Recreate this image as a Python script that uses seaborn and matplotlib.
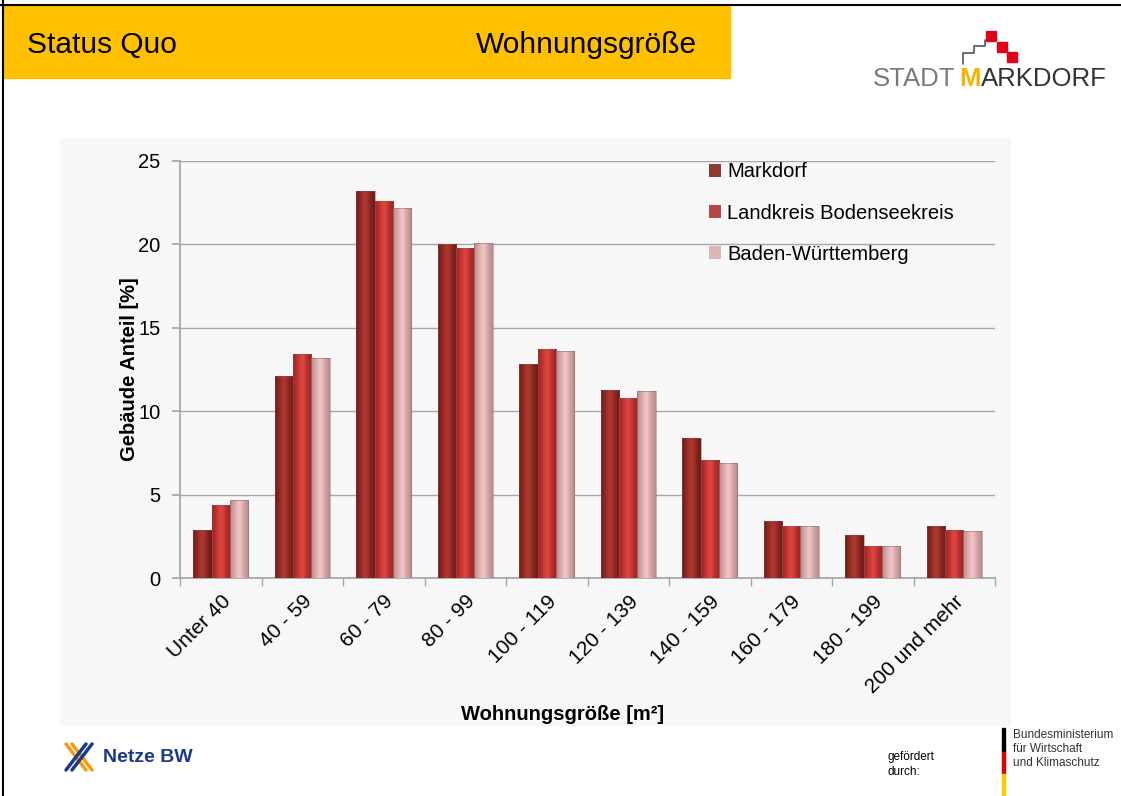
import pandas as pd
import matplotlib.pyplot as plt
import seaborn as sns
import numpy as np
from matplotlib.colors import LinearSegmentedColormap
from matplotlib.patches import Rectangle
from matplotlib.lines import Line2D

# Daten
kategorien = ['Unter 40', '40 - 59', '60 - 79', '80 - 99', '100 - 119', '120 - 139',
              '140 - 159', '160 - 179', '180 - 199', '200 und mehr']
markdorf = [2.9, 12.1, 23.2, 20.0, 12.8, 11.3, 8.4, 3.4, 2.6, 3.1]
landkreis = [4.4, 13.4, 22.6, 19.8, 13.7, 10.8, 7.1, 3.1, 1.9, 2.9]
bawue = [4.7, 13.2, 22.2, 20.1, 13.6, 11.2, 6.9, 3.1, 1.9, 2.8]
serien = ['Markdorf', 'Landkreis Bodenseekreis', 'Baden-Württemberg']
y_ticks = [0, 5, 10, 15, 20, 25]

df = pd.DataFrame({
    'Kategorie': kategorien * 3,
    'Anteil': markdorf + landkreis + bawue,
    'Region': [serien[0]] * 10 + [serien[1]] * 10 + [serien[2]] * 10,
})

farben = ['#9e2b26', '#c93431', '#e3b0b0']
verlauf = {
    serien[0]: ['#6e1a16', '#962a24', '#b03a32', '#8c2621', '#6e1a16'],
    serien[1]: ['#9a2522', '#c7332f', '#de4a45', '#b92e2a', '#9a2522'],
    serien[2]: ['#b98a8b', '#dcaaaa', '#f1caca', '#d4a2a2', '#b98a8b'],
}

sns.set_theme(style='white')
plt.rcParams['font.family'] = ['Liberation Sans', 'DejaVu Sans']
for key in ['text.color', 'axes.labelcolor', 'xtick.labelcolor', 'ytick.labelcolor']:
    plt.rcParams[key] = 'black'

fig = plt.figure(figsize=(11.21, 7.96), dpi=100)
fig.patch.set_facecolor('white')

# Rahmen und Kopfzeile
fig.add_artist(Line2D([3 / 1121, 3 / 1121], [0, 1], color='black', lw=1.5))
fig.add_artist(Line2D([0, 1], [1 - 5 / 796, 1 - 5 / 796], color='black', lw=1.5))
fig.add_artist(Rectangle((4 / 1121, 1 - 78 / 796), 726 / 1121, 72 / 796,
                         color='#ffc000', zorder=0))
fig.text(27 / 1121, 1 - 45 / 796, 'Status Quo', fontsize=21.5, va='center')
fig.text(476 / 1121, 1 - 45 / 796, 'Wohnungsgröße', fontsize=21.5, va='center')

# Logo Stadt Markdorf
fig.text(873 / 1121, 1 - 79 / 796, 'STADT', fontsize=18.5, color='#7a7a7a', va='center')
fig.text(959 / 1121, 1 - 79 / 796, 'M', fontsize=18.5, color='#f5b400',
         va='center', fontweight='bold')
fig.text(981 / 1121, 1 - 79 / 796, 'ARKDORF', fontsize=18.5, color='#333333', va='center')
stufen_x = np.array([963, 963, 974, 974, 985, 985]) / 1121
stufen_y = 1 - np.array([64, 53, 53, 46, 46, 40]) / 796
fig.add_artist(Line2D(stufen_x, stufen_y, color='#555555', lw=1.2))
for (qx, qy) in [(986, 31), (997, 42), (1007, 52)]:
    fig.add_artist(Rectangle((qx / 1121, 1 - (qy + 10) / 796), 10 / 1121, 10 / 796,
                             color='#e2001a'))

# grauer Diagrammbereich
fig.add_artist(Rectangle((60 / 1121, 1 - 725 / 796), 950 / 1121, 587 / 796,
                         color='#f7f7f7', zorder=0))

ax = fig.add_axes([180 / 1121, 1 - 578 / 796, 815 / 1121, 417 / 796])
ax.set_facecolor('#f7f7f7')
sns.barplot(data=df, x='Kategorie', y='Anteil', hue='Region', palette=farben,
            width=0.68, gap=0, ax=ax, zorder=3, edgecolor='none')

# Verlauf auf die Balken legen (3D-Optik)
for container, name in zip(ax.containers, serien):
    cmap = LinearSegmentedColormap.from_list(name, verlauf[name])
    grad = np.linspace(0, 1, 64).reshape(1, -1)
    for bar in container:
        x0, w, h = bar.get_x(), bar.get_width(), bar.get_height()
        img = ax.imshow(grad, cmap=cmap, aspect='auto', extent=[x0, x0 + w, 0, h],
                        zorder=4, interpolation='bicubic')
        img.set_clip_path(bar)
        ax.add_patch(Rectangle((x0, 0), w, h, fill=False, edgecolor='#7a5a5a',
                               lw=0.6, alpha=0.5, zorder=5))

ax.set_xlim(-0.5, 9.5)
ax.set_ylim(0, 25)
ax.set_yticks(y_ticks)
ax.yaxis.grid(True, color='#a6a6a6', lw=1)
ax.set_axisbelow(True)
for s in ['top', 'right']:
    ax.spines[s].set_visible(False)
ax.spines['left'].set_color('#a6a6a6')
ax.spines['bottom'].set_color('#a6a6a6')
ax.tick_params(axis='y', labelsize=14.5, length=6, color='#a6a6a6', left=True, pad=8)
ax.set_xticks(range(len(kategorien)))
ax.set_xticklabels(kategorien, rotation=45, ha='right', rotation_mode='anchor', fontsize=15)
ax.tick_params(axis='x', length=0, pad=10)
ax.set_xticks(np.arange(-0.5, 10, 1), minor=True)
ax.tick_params(axis='x', which='minor', length=6, color='#a6a6a6', bottom=True)

ax.set_ylabel('Gebäude Anteil [%]', fontsize=14.5, fontweight='bold')
ax.yaxis.set_label_coords(-0.05, 0.5)
ax.set_xlabel('Wohnungsgröße [m²]', fontsize=14.5, fontweight='bold')
ax.xaxis.set_label_coords(0.47, -0.305)

ax.legend(title=None, frameon=False, loc='upper left', bbox_to_anchor=(0.627, 1.04),
          fontsize=14.5, handlelength=0.6, handleheight=0.6, handletextpad=0.3,
          labelspacing=1.1)

# Fußzeile
for dx, col in [(0, '#f39c12'), (6, '#f39c12')]:
    fig.add_artist(Line2D([(66 + dx) / 1121, (86 + dx) / 1121], [1 - 744 / 796, 1 - 770 / 796],
                          color=col, lw=2.5))
for dx, col in [(0, '#1d3a8a'), (6, '#1d3a8a')]:
    fig.add_artist(Line2D([(66 + dx) / 1121, (86 + dx) / 1121], [1 - 770 / 796, 1 - 744 / 796],
                          color=col, lw=2.5))
fig.text(103 / 1121, 1 - 757 / 796, 'Netze BW', fontsize=14, fontweight='bold',
         color='#1d3a8a', va='center')
fig.text(887 / 1121, 1 - 757 / 796, 'gefördert', fontsize=8.5, va='center')
fig.text(887 / 1121, 1 - 772 / 796, 'durch:', fontsize=8.5, va='center')
fig.add_artist(Rectangle((1002 / 1121, 1 - 752 / 796), 3 / 1121, 24 / 796, color='black'))
fig.add_artist(Rectangle((1002 / 1121, 1 - 774 / 796), 3 / 1121, 22 / 796, color='#dd0000'))
fig.add_artist(Rectangle((1002 / 1121, 0), 3 / 1121, 22 / 796, color='#ffcc00'))
for i, zeile in enumerate(['Bundesministerium', 'für Wirtschaft', 'und Klimaschutz']):
    fig.text(1013 / 1121, 1 - (735 + i * 14) / 796, zeile, fontsize=8.5,
             color='#333333', va='center')

plt.savefig('out.png', dpi=100, facecolor='white')
